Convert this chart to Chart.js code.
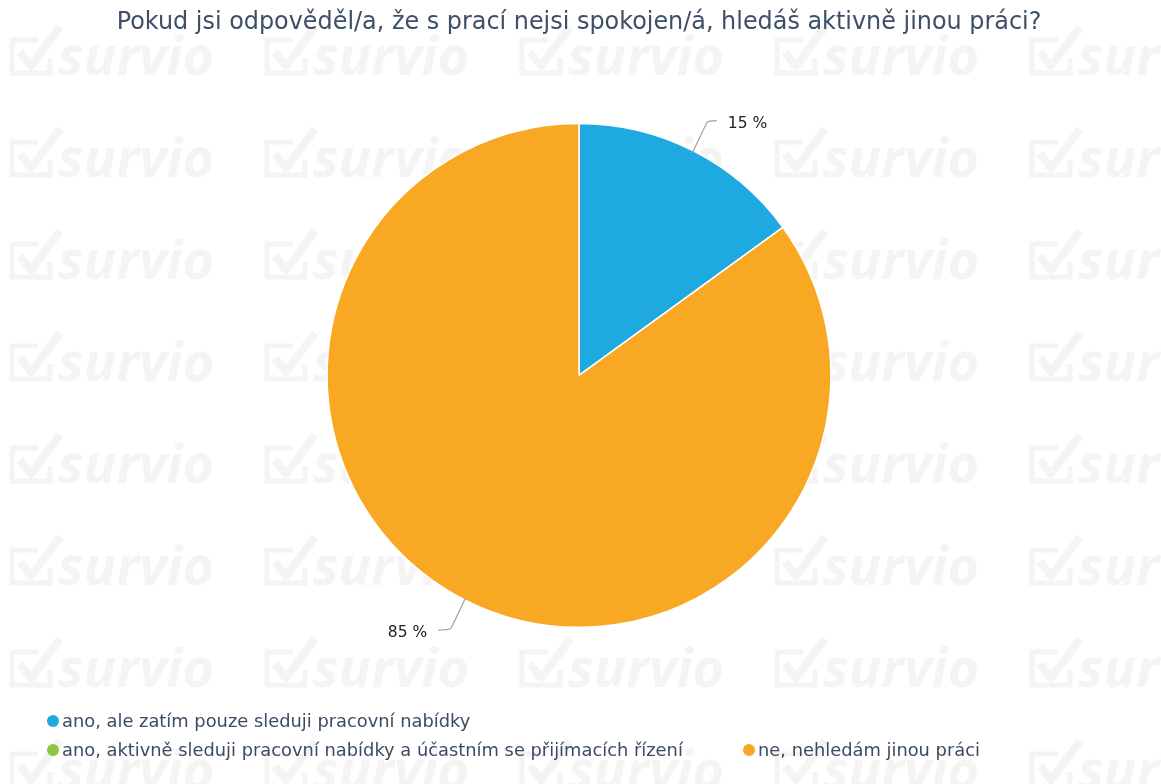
<!DOCTYPE html>
<html>
<head>
<meta charset="utf-8">
<script src="https://cdn.jsdelivr.net/npm/chart.js@4"></script>
<style>
  html,body{margin:0;padding:0;background:#fff;}
  #wrap{position:relative;width:1161px;height:784px;overflow:hidden;}
  #wm{position:absolute;left:0;top:0;pointer-events:none;}
  #c{position:absolute;left:0;top:0;}
  #legend{position:absolute;left:0;top:0;width:1161px;height:784px;pointer-events:none;
    font:17.85px "DejaVu Sans",sans-serif;color:#3b4c62;}
  .li{position:absolute;white-space:nowrap;line-height:20px;}
  .li i{position:absolute;left:0;top:4px;width:12px;height:12px;border-radius:50%;}
  .li b{font-weight:normal;margin-left:15px;}
</style>
</head>
<body>
<div id="wrap">
  <svg id="wm" width="1161" height="784"></svg>
  <canvas id="c" width="1161" height="784"></canvas>
  <div id="legend"></div>
</div>
<script>
/* ===== 資料 ===== */
const TITLE = 'Pokud jsi odpověděl/a, že s prací nejsi spokojen/á, hledáš aktivně jinou práci?';
const LABELS = ['ano, ale zatím pouze sleduji pracovní nabídky','ano, aktivně sleduji pracovní nabídky a účastním se přijímacích řízení','ne, nehledám jinou práci'];
const VALUES = [15, 0, 85];
const COLORS = ['#1fa9e1','#8cc63f','#f9a824'];
// 圖例位置
const LEG_POS = [[47,711],[47,740],[743,740]];

const $ = s=>document.querySelector(s);

/* ===== 浮水印 ===== */
(function(){
  let h='';
  for(let r=0;r<8;r++) for(let c=0;c<5;c++){
    const x=c*255, y=r*102;
    h+=`<g transform="translate(${x},${y})" fill="none" stroke="#f4f4f4">
      <polyline points="38,40 12,40 12,73 50,73 50,58" stroke-width="5"/>
      <polyline points="20,52 31,66 60,27" stroke-width="8" stroke-linejoin="round"/>
      <text x="58" y="75" fill="#f4f4f4" stroke="none" font-family="Open Sans" font-style="italic" font-weight="700" font-size="54">survio</text>
    </g>`;
  }
  $('#wm').innerHTML=h;
})();

/* ===== 圖例 ===== */
$('#legend').innerHTML = LABELS.map((l,i)=>
  `<div class="li" style="left:${LEG_POS[i][0]}px;top:${LEG_POS[i][1]}px"><i style="background:${COLORS[i]}"></i><b>${l}</b></div>`).join('');

/* ===== 外部標籤 + 引線 ===== */
const outLabels = {
  id:'outLabels',
  afterDatasetsDraw(chart){
    const ctx=chart.ctx, meta=chart.getDatasetMeta(0);
    ctx.save();
    ctx.font='15.5px "DejaVu Sans",sans-serif';
    ctx.fillStyle='#222'; ctx.strokeStyle='#a0a0a0'; ctx.lineWidth=1.2;
    meta.data.forEach((arc,i)=>{
      const v=VALUES[i]; if(!v) return;
      const {x,y,startAngle,endAngle,outerRadius}=arc.getProps(['x','y','startAngle','endAngle','outerRadius'],true);
      const a=(startAngle+endAngle)/2, cos=Math.cos(a), sin=Math.sin(a);
      const x0=x+cos*(outerRadius-2), y0=y+sin*(outerRadius-2);
      const x1=x+cos*(outerRadius+34), y1=y+sin*(outerRadius+34);
      const dir=cos>=0?1:-1;
      const x2=x1+dir*(dir>0?8:11);
      ctx.beginPath(); ctx.moveTo(x0,y0); ctx.lineTo(x1-dir*2,y1+2*(sin>0?-1:1)); ctx.quadraticCurveTo(x1,y1,x2,y1); ctx.stroke();
      ctx.textBaseline='middle'; ctx.textAlign=dir>0?'left':'right';
      ctx.fillText(v+' %', x2+dir*11, y1+3);
    });
    ctx.restore();
  }
};

new Chart($('#c'),{
  type:'pie',
  data:{labels:LABELS, datasets:[{data:VALUES, backgroundColor:COLORS, borderColor:'#fff', borderWidth:1.5}]},
  options:{
    responsive:false, animation:false,
    layout:{padding:{left:0,right:3,top:0,bottom:156}},
    plugins:{
      legend:{display:false}, tooltip:{enabled:false},
      title:{display:true, text:TITLE, color:'#3d5068',
        font:{family:'"DejaVu Sans",sans-serif', size:23.9, weight:'normal'},
        padding:{top:8,bottom:86}}
    }
  },
  plugins:[outLabels]
});
</script>
</body>
</html>
